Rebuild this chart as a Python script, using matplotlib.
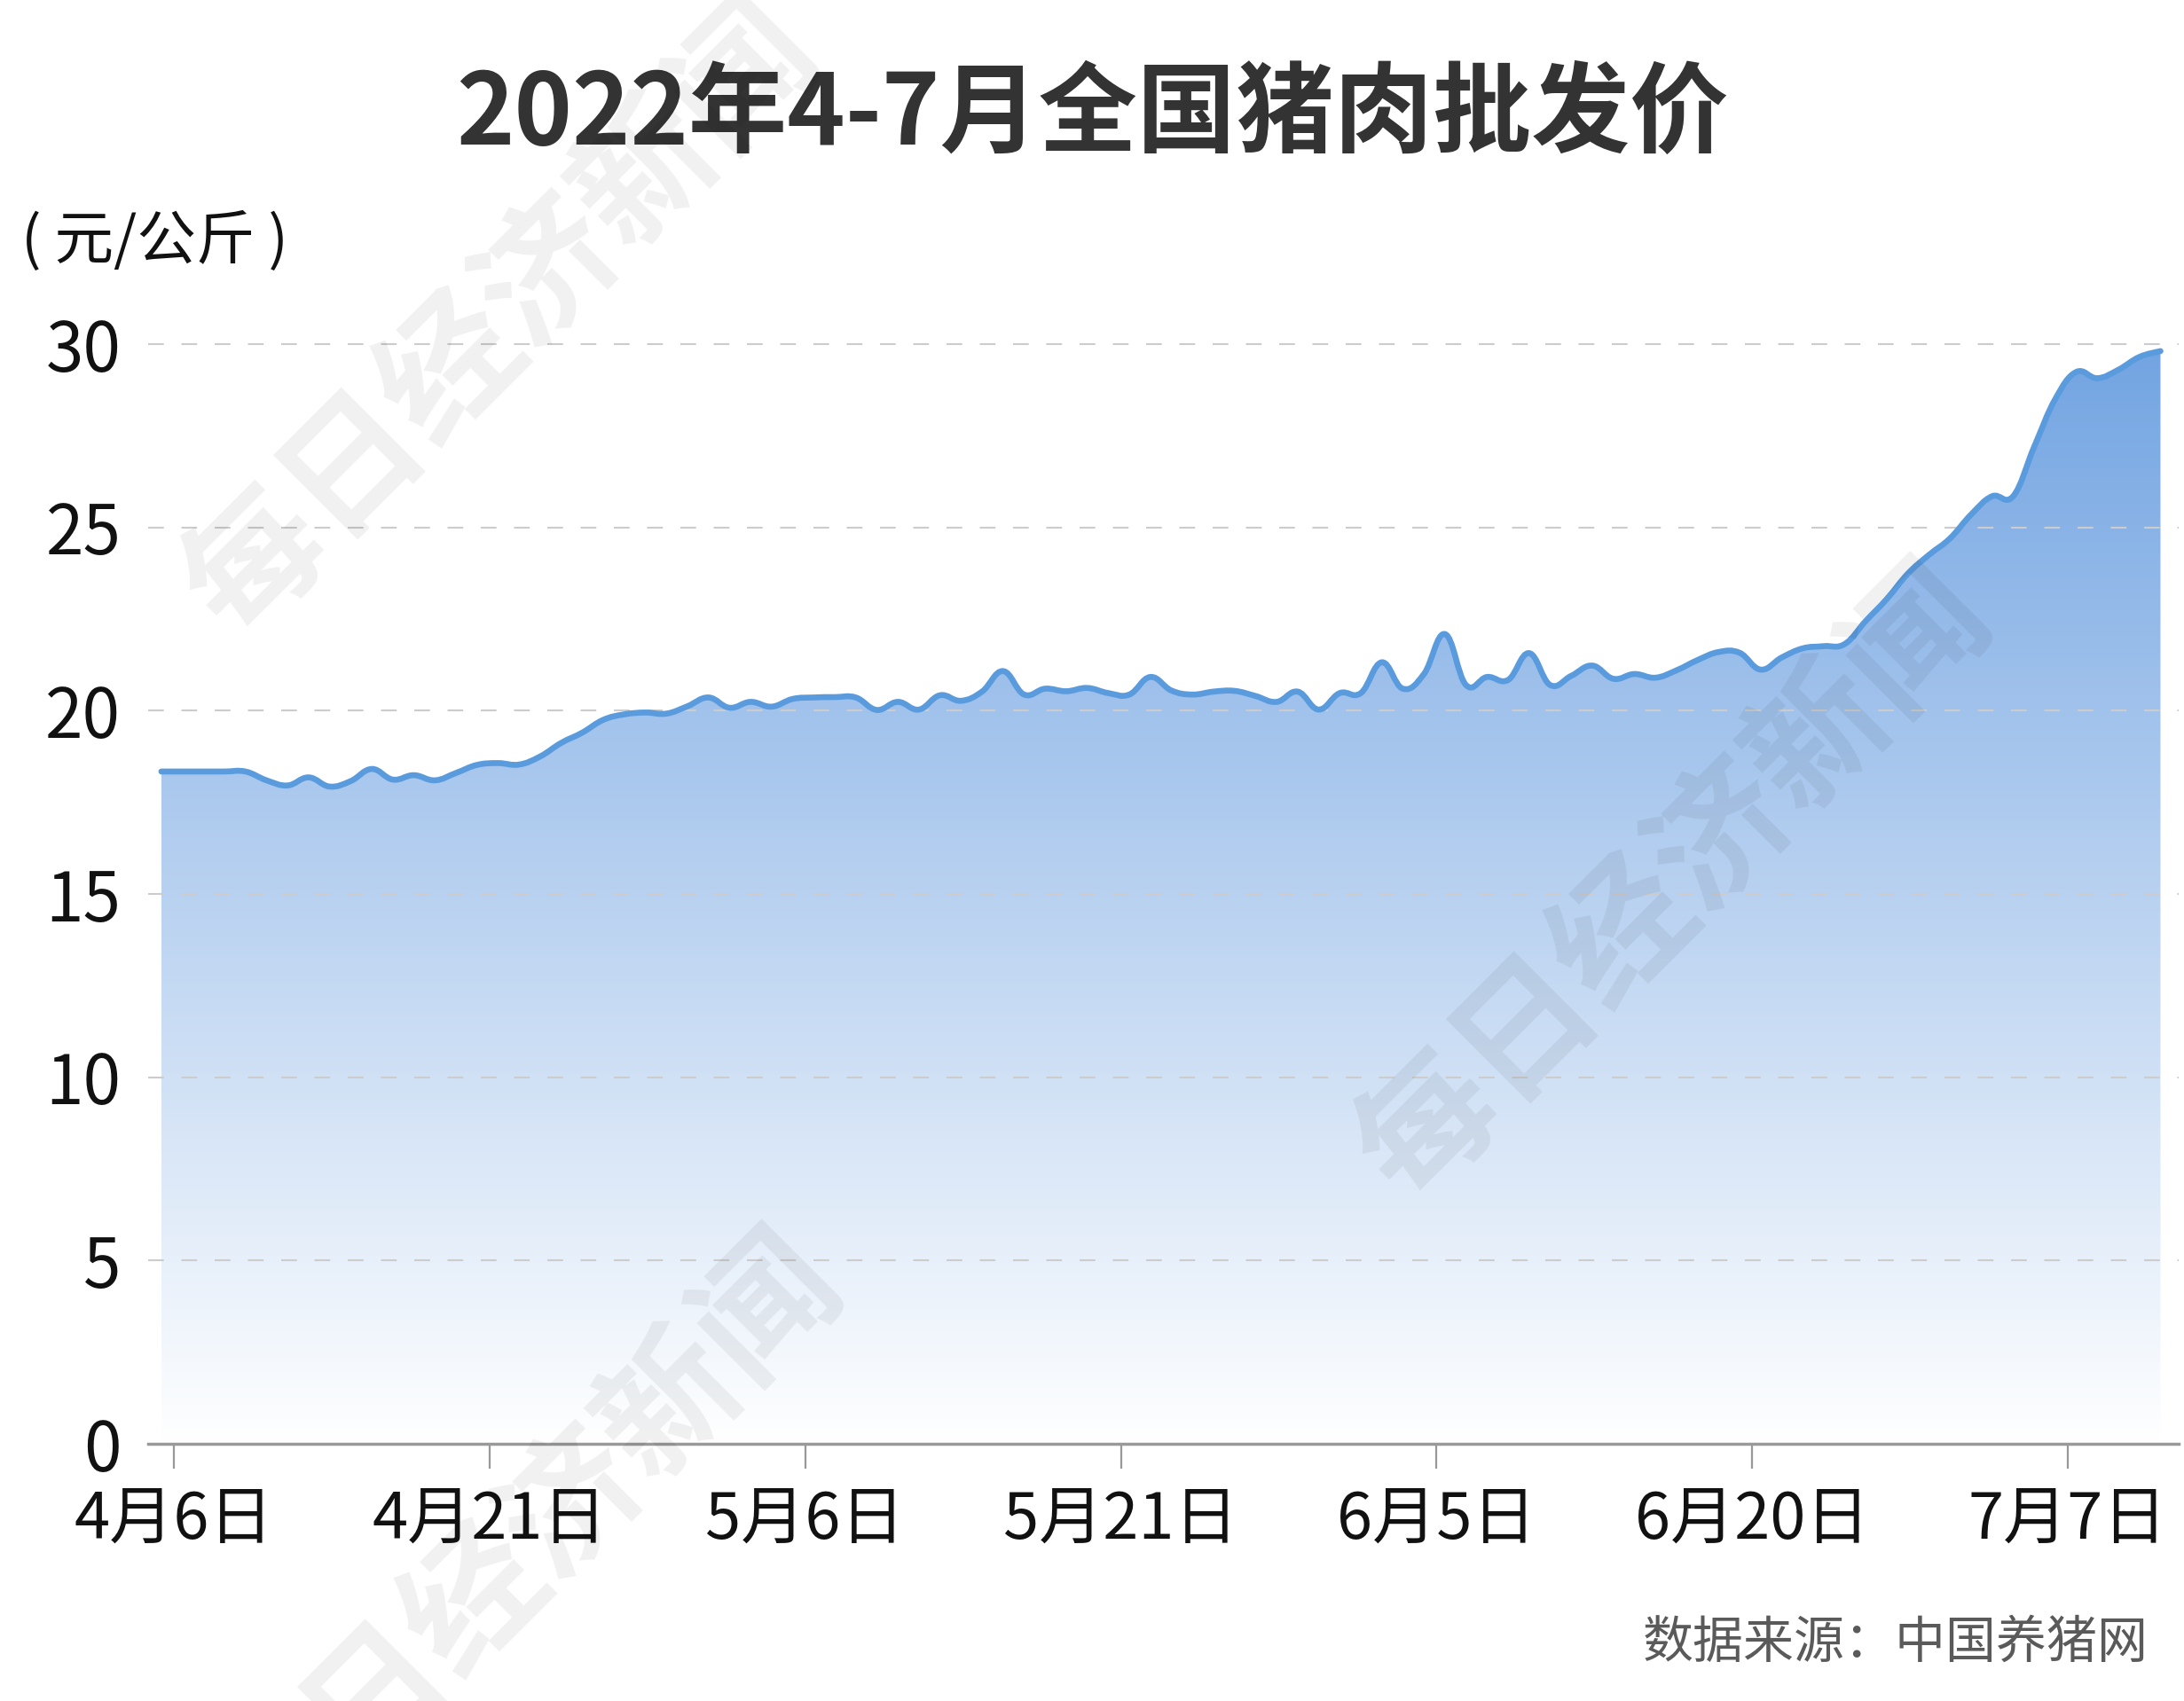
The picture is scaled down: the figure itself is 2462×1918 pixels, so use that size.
import numpy as np
import matplotlib
import matplotlib.pyplot as plt
from matplotlib.path import Path
from matplotlib.patches import PathPatch
from matplotlib.colors import LinearSegmentedColormap

# ==========================================
# DATA
# ==========================================

title = "2022年4-7月全国猪肉批发价"
unit_label = "( 元/公斤 )"
source_label = "数据来源：中国养猪网"
watermark = "每日经济新闻"

# wholesale price, yuan/kg, one value per trading point
prices = [
    18.34, 18.34, 18.34, 18.34, 18.34, 18.10, 17.96, 18.18, 17.93, 18.08,
    18.41, 18.12, 18.24, 18.10, 18.30, 18.52, 18.57, 18.53, 18.75, 19.12,
    19.40, 19.75, 19.90, 19.95, 19.92, 20.12, 20.36, 20.08, 20.24, 20.11,
    20.32, 20.36, 20.37, 20.36, 20.02, 20.24, 20.03, 20.42, 20.27, 20.52,
    21.08, 20.44, 20.60, 20.53, 20.62, 20.48, 20.44, 20.92, 20.55, 20.44,
    20.52, 20.54, 20.40, 20.24, 20.52, 20.03, 20.48, 20.48, 21.32, 20.60,
    21.00, 22.09, 20.70, 20.92, 20.84, 21.57, 20.70, 20.95, 21.23, 20.87,
    21.00, 20.90, 21.10, 21.38, 21.60, 21.58, 21.12, 21.45, 21.70, 21.76,
    21.82, 22.45, 23.05, 23.74, 24.25, 24.70, 25.35, 25.85, 25.85, 27.20,
    28.50, 29.24, 29.07, 29.30, 29.65, 29.81,
]

tick_labels = ["4月6日", "4月21日", "5月6日", "5月21日", "6月5日", "6月20日", "7月7日"]
tick_every = 15
tick_shift = 0.6

y_ticks = [0, 5, 10, 15, 20, 25, 30]

# ==========================================
# STYLE
# ==========================================

plt.rcParams["font.family"] = ["Noto Sans CJK SC", "DejaVu Sans"]

LINE_COLOR = "#5A9BDE"
TOP_COLOR = "#72A4E2"
TEXT_COLOR = "#111111"

# ==========================================
# SMOOTH PATH (cubic bezier through the points)
# ==========================================

def smooth_path(x, y, k=0.2):
    n = len(x)
    verts = [(x[0], y[0])]
    codes = [Path.MOVETO]
    for i in range(n - 1):
        a = i - 1 if i > 0 else i
        b = i + 2 if i + 2 < n else i + 1
        c1 = (x[i] + (x[i + 1] - x[a]) * k, y[i] + (y[i + 1] - y[a]) * k)
        c2 = (x[i + 1] - (x[b] - x[i]) * k, y[i + 1] - (y[b] - y[i]) * k)
        verts += [c1, c2, (x[i + 1], y[i + 1])]
        codes += [Path.CURVE4] * 3
    return verts, codes

# ==========================================
# FIGURE
# ==========================================

fig = plt.figure(figsize=(24.62, 19.18), dpi=100)
ax = fig.add_axes([0.0678, 0.1512, 0.9298, 0.6465])

x = np.arange(len(prices))
y = np.array(prices)

verts, codes = smooth_path(x, y)

# area fill with vertical gradient
area_verts = verts + [(x[-1], 0), (x[0], 0), (x[0], y[0])]
area_codes = codes + [Path.LINETO, Path.LINETO, Path.CLOSEPOLY]
area = PathPatch(Path(area_verts, area_codes), facecolor="none",
                 edgecolor="none", transform=ax.transData)
ax.add_patch(area)

cmap = LinearSegmentedColormap.from_list("fade", ["#FFFFFF", TOP_COLOR])
grad = np.linspace(0, 1, 256).reshape(-1, 1)
im = ax.imshow(grad, extent=[x[0], x[-1], 0, 30], origin="lower",
               aspect="auto", cmap=cmap, zorder=1)
im.set_clip_path(area)

# line
ax.add_patch(PathPatch(Path(verts, codes), facecolor="none",
                       edgecolor=LINE_COLOR, linewidth=4.8,
                       capstyle="round", joinstyle="round", zorder=3))

# ==========================================
# AXES
# ==========================================

ax.set_xlim(-0.63, 95.87)
ax.set_ylim(0, 30)

ax.set_yticks(y_ticks)
ax.set_yticklabels([str(v) for v in y_ticks], fontsize=55, color=TEXT_COLOR)
ax.tick_params(axis="y", length=0, pad=22)

for v in y_ticks[1:]:
    gl = ax.axhline(v, color="#CCCCCC", linewidth=1.5, zorder=2, clip_on=False)
    gl.set_dashes([8.5, 9.5])

tick_pos = [i * tick_every + tick_shift for i in range(len(tick_labels))]
ax.set_xticks(tick_pos)
ax.set_xticklabels(tick_labels, fontsize=52, color=TEXT_COLOR)
ax.tick_params(axis="x", length=20, width=1.6, color="#999999", pad=16)

for side in ["top", "right", "left"]:
    ax.spines[side].set_visible(False)
ax.spines["bottom"].set_color("#999999")
ax.spines["bottom"].set_linewidth(2.5)
ax.spines["bottom"].set_zorder(4)

# ==========================================
# TEXTS
# ==========================================

fig.text(0.5, 0.932, title, ha="center", va="center",
         fontsize=80, fontweight="bold", color="#333333")

fig.text(24 / 2462, 1 - 273 / 1918, unit_label, ha="left", va="center",
         fontsize=48, color=TEXT_COLOR)

fig.text(2422 / 2462, 0.0344, source_label, ha="right", va="center",
         fontsize=41, color="#5A5A5A")

# watermarks run off the edges in the original too
for cx, cy in [(565, 361), (1887, 997), (592, 1750)]:
    fig.text(cx / 2462, 1 - cy / 1918, watermark, ha="center", va="center",
             rotation=45, fontsize=112, fontweight="bold",
             color="#000000", alpha=0.06, zorder=10)

plt.savefig("out.png", dpi=100)
plt.close()
